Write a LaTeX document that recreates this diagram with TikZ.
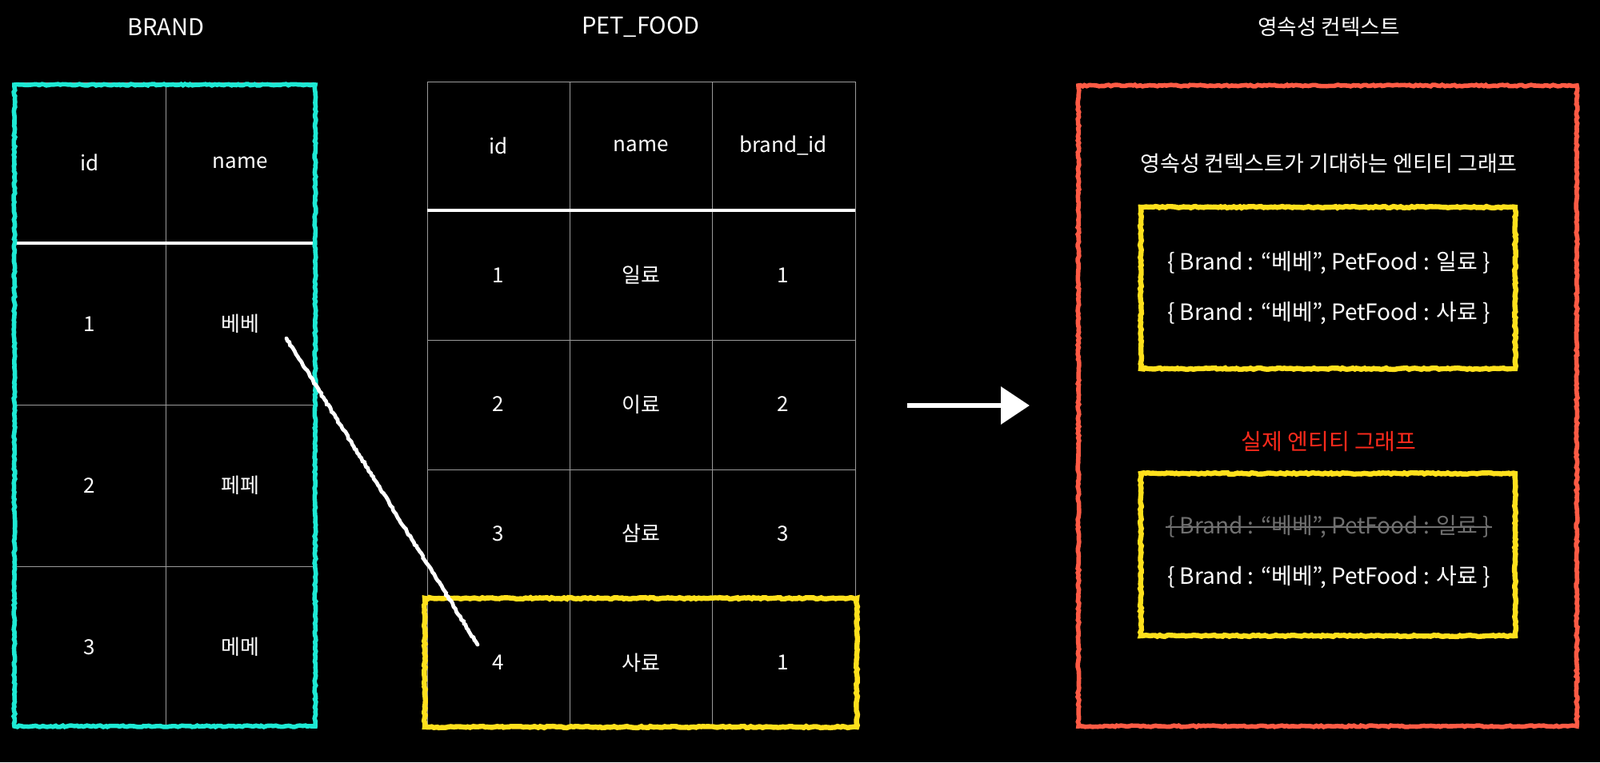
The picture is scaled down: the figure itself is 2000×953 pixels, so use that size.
\documentclass[tikz,border=0pt]{standalone}
\usepackage{fontspec}
\setmainfont{Noto Sans CJK KR}
\usetikzlibrary{arrows.meta,positioning,decorations.pathmorphing,calc}
\definecolor{chalkcyan}{HTML}{1DE9D4}
\definecolor{chalkyellow}{HTML}{FFE01C}
\definecolor{chalkred}{HTML}{FF5B45}
\definecolor{labelred}{HTML}{FF2A1C}
\definecolor{gridgray}{HTML}{9A9A9A}
\definecolor{strikegray}{HTML}{707070}

\tikzset{
  cell/.style={text=white, inner sep=1pt, font=\fontsize{13}{15}\selectfont},
  entity/.style={text=white, inner sep=1pt, font=\fontsize{14}{16}\selectfont},
  title/.style={text=white, inner sep=1pt, font=\fontsize{14.5}{17}\selectfont},
  grid/.style={draw=gridgray, line width=0.5pt},
  headline/.style={draw=white, line width=1.6pt},
  chalk/.style={line width=2.8pt, decorate,
    decoration={random steps, segment length=1.5pt, amplitude=0.45pt}},
}

\begin{document}
\begin{tikzpicture}[x=0.5pt, y=-0.5pt, >=Stealth]
  \fill[black] (0,0) rectangle (2000,953);
  \useasboundingbox (0,0) rectangle (2000,953);

  % BRAND
  \node[title] (brand-title) at (207,34) {BRAND};
  \draw[grid] (18,103) rectangle (394,909);
  \draw[grid] (207,103) -- (207,909);
  \foreach \y in {506,708} \draw[grid] (18,\y) -- (394,\y);
  \draw[headline] (18,304) -- (394,304);
  \node[cell] (b-id) at (112,203) {id};
  \node[cell] (b-name) at (300,203) {name};
  \foreach \i/\n [count=\r] in {1/베베,2/페페,3/메메} {
    \node[cell] (b-id\r) at (112,{203+202*\r}) {\i};
    \node[cell] (b-name\r) at (300,{203+202*\r}) {\n};
  }
  \draw[chalk, chalkcyan] (18,106) rectangle (394,908);

  % PET_FOOD
  \node[title] (pf-title) at (801,34) {PET\_FOOD};
  \draw[grid] (534,102) rectangle (1069,909);
  \foreach \x in {712,890} \draw[grid] (\x,102) -- (\x,909);
  \foreach \y in {425,587,748} \draw[grid] (534,\y) -- (1069,\y);
  \draw[headline] (534,263) -- (1069,263);
  \node[cell] (p-id) at (623,182) {id};
  \node[cell] (p-name) at (801,182) {name};
  \node[cell] (p-brand) at (979,182) {brand\_id};
  \foreach \i/\n/\b [count=\r] in {1/일료/1,2/이료/2,3/삼료/3,4/사료/1} {
    \node[cell] (p-id\r) at (623,{182.5+161.5*\r}) {\i};
    \node[cell] (p-name\r) at (801,{182.5+161.5*\r}) {\n};
    \node[cell] (p-brand\r) at (979,{182.5+161.5*\r}) {\b};
  }
  \draw[chalk, chalkyellow, line width=3.2pt] (531,748) rectangle (1071,909);

  % brand 1 -> food 4
  \coordinate (link-a) at (358,423);
  \coordinate (link-b) at (597,806);
  \draw[chalk, white, line width=2.4pt, line cap=round] (link-a) -- (link-b);

  % arrow
  \coordinate (arr-a) at (1134,507);
  \coordinate (arr-b) at (1287,507);
  \draw[white, line width=3.2pt, -{Triangle[length=18pt,width=23pt]}] (arr-a) -- (arr-b);

  % persistence context
  \node[title, font=\fontsize{13.3}{16}\selectfont] (pc-title) at (1661,34) {영속성 컨텍스트};
  \draw[chalk, chalkred] (1348,107) rectangle (1971,908);
  \node[cell, font=\fontsize{13.5}{16}\selectfont] (expect) at (1661,204) {영속성 컨텍스트가 기대하는 엔티티 그래프};
  \draw[chalk, chalkyellow, line width=3.2pt] (1426,259) rectangle (1894,461);
  \node[entity] (exp1) at (1661,329) {\{ Brand : “베베”, PetFood : 일료 \}};
  \node[entity] (exp2) at (1661,392) {\{ Brand : “베베”, PetFood : 사료 \}};

  \node[entity, text=labelred] (actual) at (1661,552) {실제 엔티티 그래프};
  \draw[chalk, chalkyellow, line width=3.2pt] (1426,592) rectangle (1894,795);
  \node[entity, text=strikegray] (act1) at (1661,659) {\{ Brand : “베베”, PetFood : 일료 \}};
  \draw[strikegray, line width=1pt] (act1.west) -- (act1.east);
  \node[entity] (act2) at (1661,722) {\{ Brand : “베베”, PetFood : 사료 \}};
\end{tikzpicture}
\end{document}
